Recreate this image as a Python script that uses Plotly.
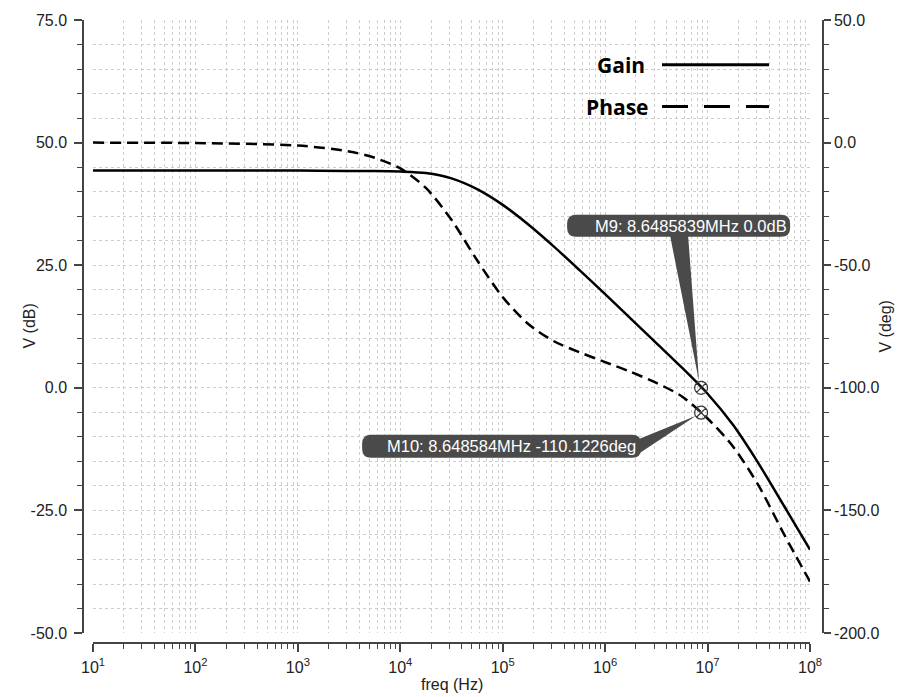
import numpy as np
import plotly.graph_objects as go

# Open-loop AC response of the amplifier (read at quarter-decade steps)
freq_hz = [1e1, 1e2, 1e3, 3.162e3, 5.623e3, 1e4, 1.778e4, 3.162e4, 5.623e4,
           1e5, 1.778e5, 3.162e5, 5.623e5, 1e6, 1.778e6, 3.162e6, 5.623e6,
           1e7, 1.778e7, 3.162e7, 5.623e7, 1e8]
gain_db = [44.3, 44.3, 44.3, 44.2, 44.2, 44.1, 43.8, 42.7, 40.5,
           37.3, 33.3, 28.8, 24.0, 19.1, 14.1, 9.1, 4.1,
           -1.2, -7.6, -15.5, -24.2, -33.0]
phase_deg = [0.0, -0.2, -1.2, -3.6, -6.2, -10.5, -18.5, -31.5, -48.0,
             -63.0, -74.0, -81.0, -85.5, -89.5, -93.5, -98.0, -103.5,
             -112.5, -124.0, -140.0, -160.0, -179.0]

# Cursor readouts
m9_freq, m9_gain = 8.6485839e6, 0.0
m10_freq, m10_phase = 8.648584e6, -110.1226

x_tick_vals = [1e1, 1e2, 1e3, 1e4, 1e5, 1e6, 1e7, 1e8]
x_tick_text = ["10<sup>%d</sup>" % e for e in range(1, 9)]
y_tick_vals = [-50, -25, 0, 25, 50, 75]
y2_tick_vals = [-200, -150, -100, -50, 0, 50]

W, H = 900, 697
ML, MR, MT, MB = 83, 77, 17, 54
PW, PH = W - ML - MR, H - MT - MB
AX_GAP = 10  # axes sit detached from the plot area


def px_x(p):
    return (p - ML) / PW


def px_y(p):
    return (H - MB - p) / PH


GRID = "#cdcdcd"
AXC = "#444444"
SANS = "Liberation Sans, Arial, sans-serif"
TICKFONT = dict(family=SANS, size=16, color="#222222")
BOX = "#4a4a4a"
MARK = "#333333"

fig = go.Figure()
fig.add_trace(go.Scatter(x=freq_hz, y=gain_db, mode="lines", name="Gain",
                         line=dict(color="black", width=2.5, shape="spline", smoothing=0.8),
                         xaxis="x", yaxis="y"))
fig.add_trace(go.Scatter(x=freq_hz, y=phase_deg, mode="lines", name="Phase",
                         line=dict(color="black", width=2.5, dash="11px,6px",
                                   shape="spline", smoothing=0.8),
                         xaxis="x", yaxis="y2"))
fig.add_trace(go.Scatter(x=[m9_freq], y=[m9_gain], mode="markers",
                         marker=dict(symbol="circle-x-open", size=13, color=MARK,
                                     line=dict(color=MARK, width=1.2)),
                         xaxis="x", yaxis="y"))
fig.add_trace(go.Scatter(x=[m10_freq], y=[m10_phase], mode="markers",
                         marker=dict(symbol="circle-x-open", size=13, color=MARK,
                                     line=dict(color=MARK, width=1.2)),
                         xaxis="x", yaxis="y2"))


def rounded_box(x0, x1, y0, y1, r):
    # y values are pixels upward from the anchor
    return (f"M {x0 + r},{y1} L {x1 - r},{y1} Q {x1},{y1} {x1},{y1 - r} "
            f"L {x1},{y0 + r} Q {x1},{y0} {x1 - r},{y0} L {x0 + r},{y0} "
            f"Q {x0},{y0} {x0},{y0 + r} L {x0},{y1 - r} Q {x0},{y1} {x0 + r},{y1} Z")


shapes = []
# M9 callout
shapes.append(dict(type="path", xref="x", yref="y", xsizemode="pixel", ysizemode="pixel",
                   xanchor=m9_freq, yanchor=m9_gain,
                   path=rounded_box(-134, 89, 151, 173, 9),
                   fillcolor=BOX, line=dict(width=0), layer="above"))
shapes.append(dict(type="path", xref="x", yref="y", xsizemode="pixel", ysizemode="pixel",
                   xanchor=m9_freq, yanchor=m9_gain,
                   path="M -31,152 L -13,152 L -2,6 Z",
                   fillcolor=BOX, line=dict(width=0), layer="above"))
# M10 callout
shapes.append(dict(type="path", xref="x", yref="y2", xsizemode="pixel", ysizemode="pixel",
                   xanchor=m10_freq, yanchor=m10_phase,
                   path=rounded_box(-339, -60, -45, -22, 9),
                   fillcolor=BOX, line=dict(width=0), layer="above"))
shapes.append(dict(type="path", xref="x", yref="y2", xsizemode="pixel", ysizemode="pixel",
                   xanchor=m10_freq, yanchor=m10_phase,
                   path="M -64,-27 L -61,-40 L -5,-3 Z",
                   fillcolor=BOX, line=dict(width=0), layer="above"))

# Legend keys
shapes.append(dict(type="line", xref="paper", yref="paper",
                   x0=px_x(662), x1=px_x(769), y0=px_y(62), y1=px_y(62),
                   line=dict(color="black", width=3)))
shapes.append(dict(type="line", xref="paper", yref="paper",
                   x0=px_x(662), x1=px_x(769), y0=px_y(104), y1=px_y(104),
                   line=dict(color="black", width=3, dash="26px,16px")))

annotations = [
    dict(text="<b>Gain</b>", xref="paper", yref="paper", x=px_x(647), y=px_y(62),
         xanchor="right", yanchor="middle", showarrow=False,
         font=dict(family="Open Sans, sans-serif", size=21, color="black")),
    dict(text="<b>Phase</b>", xref="paper", yref="paper", x=px_x(651), y=px_y(104),
         xanchor="right", yanchor="middle", showarrow=False,
         font=dict(family="Open Sans, sans-serif", size=21, color="black")),
    dict(text="M9: 8.6485839MHz 0.0dB", xref="x", yref="y",
         x=np.log10(m9_freq), y=m9_gain, xanchor="right", yanchor="middle",
         xshift=88, yshift=162, showarrow=False,
         font=dict(family=SANS, size=16.5, color="white")),
    dict(text="M10: 8.648584MHz -110.1226deg", xref="x", yref="y2",
         x=np.log10(m10_freq), y=m10_phase, xanchor="right", yanchor="middle",
         xshift=-63, yshift=-33, showarrow=False,
         font=dict(family=SANS, size=16.5, color="white")),
    dict(text="V (dB)", xref="paper", yref="paper", x=px_x(30), y=px_y(325),
         xanchor="center", yanchor="middle", textangle=-90, showarrow=False,
         font=dict(family=SANS, size=16, color="#222222")),
    dict(text="V (deg)", xref="paper", yref="paper", x=px_x(886), y=px_y(325),
         xanchor="center", yanchor="middle", textangle=-90, showarrow=False,
         font=dict(family=SANS, size=16, color="#222222")),
    dict(text="freq (Hz)", xref="paper", yref="paper", x=px_x(452), y=px_y(685),
         xanchor="center", yanchor="middle", showarrow=False,
         font=dict(family=SANS, size=16, color="#222222")),
]

x_minor = [k * 10 ** d for d in range(1, 8) for k in range(2, 10)]

fig.update_layout(
    width=W, height=H,
    margin=dict(l=ML, r=MR, t=MT, b=MB, pad=0),
    paper_bgcolor="white", plot_bgcolor="white",
    showlegend=False,
    xaxis=dict(type="log", range=[1, 8], domain=[AX_GAP / PW, (AX_GAP + 717) / PW],
               anchor="free", position=0,
               showline=True, linecolor=AXC, linewidth=1.5,
               ticks="outside", ticklen=8, tickwidth=1.5, tickcolor=AXC,
               tickmode="array", tickvals=x_tick_vals, ticktext=x_tick_text,
               tickfont=TICKFONT, ticklabelstandoff=2,
               showgrid=True, gridcolor=GRID, griddash="dot", gridwidth=1,
               minor=dict(tickmode="array", tickvals=x_minor, ticks="outside",
                          ticklen=5, tickwidth=1.2, tickcolor=AXC,
                          showgrid=True, gridcolor=GRID, griddash="dot", gridwidth=1),
               zeroline=False),
    yaxis=dict(range=[-50, 75], domain=[AX_GAP / PH, 1],
               anchor="free", position=0,
               showline=True, linecolor=AXC, linewidth=1.5,
               ticks="outside", ticklen=8, tickwidth=1.5, tickcolor=AXC,
               tickmode="array", tickvals=y_tick_vals,
               ticktext=["%.1f" % v for v in y_tick_vals],
               tickfont=TICKFONT, ticklabelstandoff=4,
               showgrid=True, gridcolor=GRID, griddash="dot", gridwidth=1,
               minor=dict(dtick=5, tick0=0, ticks="outside", ticklen=5, tickwidth=1.2,
                          tickcolor=AXC, showgrid=True, gridcolor=GRID,
                          griddash="dot", gridwidth=1),
               zeroline=False),
    yaxis2=dict(range=[-200, 50], overlaying="y", side="right",
                anchor="free", position=1,
                showline=True, linecolor=AXC, linewidth=1.5,
                ticks="outside", ticklen=7, tickwidth=1.5, tickcolor=AXC,
                tickmode="array", tickvals=y2_tick_vals,
                ticktext=["%.1f" % v for v in y2_tick_vals],
                tickfont=TICKFONT,
                showgrid=False,
                minor=dict(dtick=10, tick0=0, ticks="outside", ticklen=5, tickwidth=1.2,
                           tickcolor=AXC, showgrid=False),
                zeroline=False),
    shapes=shapes,
    annotations=annotations,
)

fig.write_html("out.html")
